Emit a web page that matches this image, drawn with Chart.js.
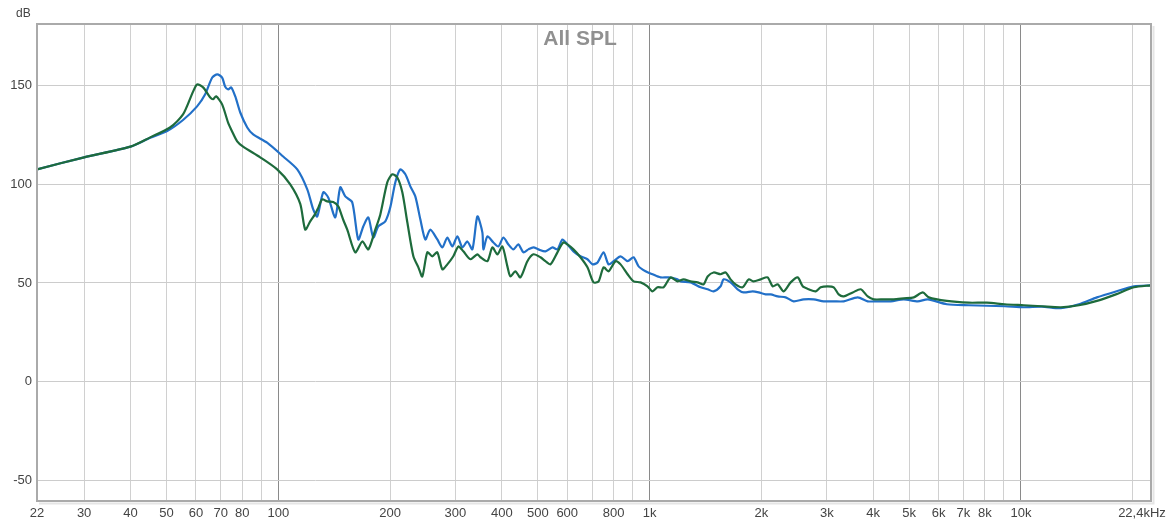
<!DOCTYPE html>
<html>
<head>
<meta charset="utf-8">
<script src="https://cdn.jsdelivr.net/npm/chart.js@4.4.1/dist/chart.umd.min.js"></script>
<style>
  html, body { margin: 0; padding: 0; background: #fff; }
  #wrap { width: 1176px; height: 521px; }
</style>
</head>
<body>
<div id="wrap"><canvas id="c" width="1176" height="521"></canvas></div>
<script>
// All SPL — two measurements, log frequency axis
const dbTicks = [-50, 0, 50, 100, 150];
const gridHz = [30, 40, 50, 60, 70, 80, 90, 100, 200, 300, 400, 500, 600, 700, 800, 900,
  1000, 2000, 3000, 4000, 5000, 6000, 7000, 8000, 9000, 10000, 20000];
const labelHz   = [22.4, 30, 40, 50, 60, 70, 80, 100, 200, 300, 400, 500, 600, 800, 1000, 2000, 3000, 4000, 5000, 6000, 7000, 8000, 10000, 22400];
const labelText = ['22', '30', '40', '50', '60', '70', '80', '100', '200', '300', '400', '500', '600', '800', '1k', '2k', '3k', '4k', '5k', '6k', '7k', '8k', '10k', '22,4kHz'];

// blue trace
const blueHz = [22.4, 30, 40, 45.2, 50.2, 55.4, 60.45, 63.5, 66.4, 68.5, 70.6, 71.9, 73.3, 74.7, 76.6, 79, 82.5, 85.6, 93.3,
  103.1, 112.5, 119.7, 124.2, 127.3, 132.2, 136.3, 142.4, 146.9, 151.5, 158.2, 164.2, 169.4, 174.8, 180.3, 185.9, 194.2,
  200.3, 206.6, 213.1, 219.9, 226.8, 233.9, 241.3, 248.9, 256.7, 268.1, 276.6, 285.3, 294.3, 303.6, 313.2, 323, 333.2,
  343.7, 354.5, 356.8, 365.7, 379.6, 391.5, 403.8, 416.6, 429.7, 443.2, 457.2, 471.6, 486.5, 501.8, 524.1, 547.4, 564.6,
  582.4, 600.8, 623.6, 651.3, 680.2, 702.1, 724.2, 751.7, 775.3, 799.7, 835.2, 872.3, 905.4, 933.9, 975, 1018, 1070,
  1125, 1189, 1211, 1289, 1372, 1433, 1487, 1553, 1582, 1652, 1726, 1791, 1894, 1966, 2054, 2119, 2213, 2325, 2443,
  2600, 2766, 2943, 3132, 3333, 3635, 3867, 4114, 4461, 4835, 5274, 5613, 6316, 7236, 9050, 10183, 11386, 12810,
  14325, 16018, 18022, 20153, 22400];
const blueDb = [107.5, 113.6, 119, 123.5, 126.9, 132.5, 139.4, 145.4, 154, 155.6, 154, 149.5, 148, 149, 144.4, 136.3, 128.7, 125.2, 121,
  114, 107.5, 97.4, 87.2, 83.7, 95.9, 93.3, 83.2, 98.4, 93.8, 90.8, 72, 78.6, 83.2, 73, 78.6, 81.2,
  88.3, 100.9, 107.5, 105, 98.9, 93.8, 82.2, 72, 77, 72, 68, 73, 68.5, 73.6, 68, 71, 67,
  83.7, 75.6, 67, 73.6, 70.5, 68.5, 73, 69.5, 67, 69.5, 65.5, 67, 68, 67, 66, 68, 67,
  72, 69.5, 66, 63.5, 62, 59.4, 60.4, 65.5, 59.4, 61, 63.5, 61, 63, 58.4, 55.9, 54.4, 52.8,
  52.8, 51.8, 50.8, 50.3, 47.8, 46.8, 45.7, 48.3, 51.8, 50.3, 46.8, 45.2, 45.7, 45.2, 44.2, 44.2, 43.2, 42.7, 40.7,
  41.7, 41.7, 40.7, 40.7, 40.7, 42.7, 40.7, 40.7, 40.7, 41.7, 40.7, 41.7, 39.2, 38.7, 38.2, 37.7, 38, 37.2,
  39.2, 42.7, 45.7, 48.3, 48.8];

// green trace
const greenHz = [22.4, 30, 40, 45.2, 51.1, 55.4, 59, 60.45, 62.75, 65.5, 66.8, 68, 70.6, 73.3, 75.1, 77.5, 80.4, 89.4, 99.3,
  107.7, 114.6, 118.2, 121.9, 125.8, 128.1, 131.3, 135.5, 140.6, 145.1, 146.9, 149.6, 153.4, 161.2, 168.4, 174.8, 182.5,
  188.3, 196.6, 202.8, 209.2, 215.8, 222.6, 231.1, 238.4, 244.3, 252, 259.9, 268.1, 276.6, 285.3, 296.1, 305.5, 315.1,
  329.1, 343.7, 350.2, 365.7, 377.2, 389.1, 401.3, 414, 421.8, 435.1, 448.7, 468.7, 486.5, 508.1, 524.1, 540.6, 564.6,
  586, 600.8, 623.6, 651.3, 680.2, 706.4, 728.8, 751.7, 775.3, 809.7, 835.2, 872.3, 905.4, 945.6, 987.2, 1018, 1050,
  1090, 1139, 1189, 1234, 1289, 1346, 1398, 1433, 1487, 1553, 1602, 1652, 1704, 1780, 1848, 1906, 1991, 2079, 2145,
  2213, 2296, 2398, 2505, 2584, 2682, 2801, 2889, 3017, 3132, 3230, 3333, 3524, 3703, 3867, 4013, 4271, 4544, 4835,
  5145, 5442, 5648, 6316, 7236, 8093, 9050, 10183, 11386, 12810, 14325, 16018, 18022, 20153, 22400];
const greenDb = [107.5, 113.6, 119, 123.7, 128.7, 135.3, 147, 150.5, 149, 144, 143, 144.5, 140.4, 131, 126.7, 121.7, 119, 113.6, 107.5,
  99.9, 90, 77, 81.2, 85, 88, 92.3, 91.3, 91, 88.8, 86.2, 82, 77, 65.5, 71, 67, 77,
  84.7, 100.9, 105, 103.4, 95.9, 80.7, 63.5, 57.9, 53.3, 65.5, 63.5, 65.5, 56.9, 59.4, 63.5, 68.5, 66,
  62, 64.5, 63, 61, 68, 64.5, 68.5, 58.4, 53.3, 55.9, 52.8, 61, 64.5, 63, 61, 59.4, 65.5,
  70.5, 69.5, 67, 63, 57.9, 50.3, 50.8, 57.9, 55.9, 61, 59.4, 54.4, 50.8, 50.3, 48.3, 45.7, 47.8,
  47.8, 52.8, 50.8, 51.8, 50.8, 50.3, 49.3, 53.3, 55.3, 54.4, 55.3, 51.8, 49.3, 47.8, 51.8, 50.8, 51.8, 52.8, 48.3,
  49.3, 45.7, 50.3, 52.8, 48.3, 46.8, 45.7, 47.8, 48.3, 47.8, 44.2, 43.2, 45.2, 46.8, 43.2, 41.7, 41.7, 41.7, 42.2,
  42.7, 45.2, 42.7, 40.9, 40, 40, 39.2, 38.7, 38.2, 37.7, 38.7, 40.9, 44.2, 47.8, 48.8];

const toPts = (hz, db) => hz.map((f, i) => ({ x: f, y: db[i] }));
const FONT = '"Liberation Sans", Arial, sans-serif';

const frame = {
  id: 'frame',
  afterDraw(chart) {
    const { ctx, chartArea: a } = chart;
    ctx.save();
    // soft shadow right/bottom
    ctx.strokeStyle = 'rgba(0,0,0,0.10)';
    ctx.lineWidth = 2;
    ctx.beginPath();
    ctx.moveTo(a.right + 2.5, a.top + 2); ctx.lineTo(a.right + 2.5, a.bottom + 2.5); ctx.lineTo(a.left + 2, a.bottom + 2.5);
    ctx.stroke();
    ctx.strokeStyle = '#aaaaaa';
    ctx.lineWidth = 2;
    ctx.strokeRect(a.left, a.top, a.right - a.left, a.bottom - a.top);
    // title inside plot
    ctx.fillStyle = '#909090';
    ctx.font = 'bold 21px ' + FONT;
    ctx.textAlign = 'center';
    ctx.textBaseline = 'middle';
    ctx.fillText('All SPL', 580, 39);
    // unit
    ctx.fillStyle = '#444';
    ctx.font = '12px ' + FONT;
    ctx.textAlign = 'left';
    ctx.fillText('dB', 16, 14);
    ctx.restore();
  }
};

new Chart(document.getElementById('c'), {
  type: 'line',
  data: {
    datasets: [
      { label: 'blue', data: toPts(blueHz, blueDb), borderColor: '#2270c8', borderWidth: 2.2, pointRadius: 0, tension: 0.25, order: 2 },
      { label: 'green', data: toPts(greenHz, greenDb), borderColor: '#1e6b3c', borderWidth: 2.2, pointRadius: 0, tension: 0.25, order: 1 }
    ]
  },
  options: {
    responsive: false,
    animation: false,
    layout: { padding: { top: 24, right: 25, left: 0, bottom: 0 } },
    plugins: { legend: { display: false }, tooltip: { enabled: false } },
    scales: {
      x: {
        type: 'logarithmic',
        min: 22.4, max: 22400,
        afterBuildTicks: s => { s.ticks = [22.4, ...gridHz, 22400].map(v => ({ value: v })); },
        afterFit: s => { s.height = 20; s.paddingLeft = 0; s.paddingRight = 0; },
        border: { display: false },
        grid: {
          drawTicks: false,
          lineWidth: 1,
          color: c => {
            const v = c.tick && c.tick.value;
            if (v === 22.4 || v === 22400) return 'rgba(0,0,0,0)';
            return (v === 100 || v === 1000 || v === 10000) ? '#8a8a8a' : '#d0d0d0';
          }
        },
        ticks: {
          autoSkip: false, maxRotation: 0, padding: 5,
          color: '#444', font: { family: FONT, size: 13 },
          callback: v => {
            const i = labelHz.indexOf(v);
            if (i < 0) return '';
            return labelText[i] === '22,4kHz' ? '22,4kHz     ' : labelText[i];
          }
        }
      },
      y: {
        type: 'linear',
        min: -60.4, max: 181.1,
        afterBuildTicks: s => { s.ticks = dbTicks.map(v => ({ value: v })); },
        afterFit: s => { s.width = 37; },
        border: { display: false },
        grid: { drawTicks: false, color: '#cccccc', lineWidth: 1 },
        ticks: { padding: 5, color: '#444', font: { family: FONT, size: 13 } }
      }
    }
  },
  plugins: [frame]
});
</script>
</body>
</html>
